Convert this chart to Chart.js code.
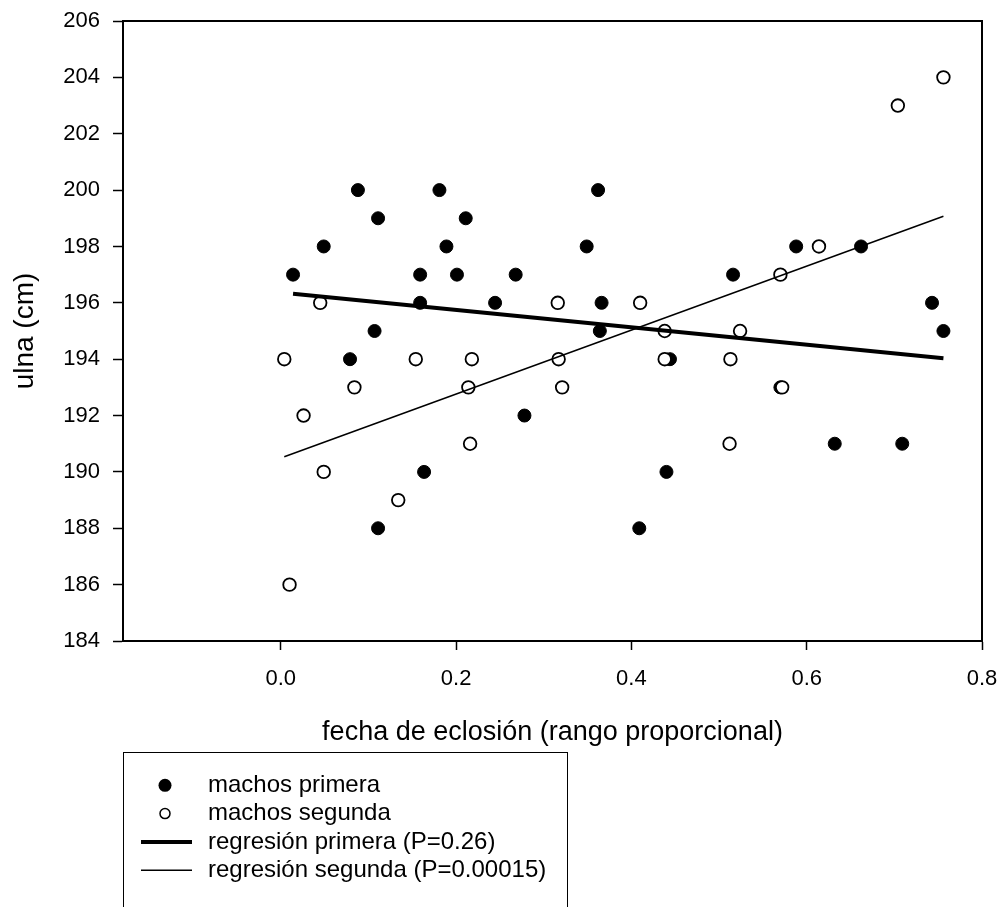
<!DOCTYPE html>
<html>
<head>
<meta charset="utf-8">
<script src="https://cdn.jsdelivr.net/npm/chart.js@4/dist/chart.umd.min.js"></script>
<style>
  html, body { margin: 0; padding: 0; background: #fff; }
  #wrap { width: 1003px; height: 907px; position: relative; }
</style>
</head>
<body>
<div id="wrap"><canvas id="chart"></canvas></div>
<script>
// machos primera (filled circles)
const primeraX = [0.014, 0.049, 0.079, 0.088, 0.107, 0.111, 0.111, 0.159, 0.159, 0.1635, 0.181, 0.189, 0.201, 0.211, 0.2445, 0.268,
  0.278, 0.349, 0.362, 0.364, 0.366, 0.409, 0.440, 0.444, 0.516, 0.570, 0.588, 0.632, 0.662, 0.709, 0.743, 0.756];
const primeraY = [197, 198, 194, 200, 195, 199, 188, 197, 196, 190, 200, 198, 197, 199, 196, 197,
  192, 198, 200, 195, 196, 188, 190, 194, 197, 193, 198, 191, 198, 191, 196, 195];

// machos segunda (open circles)
const segundaX = [0.004, 0.010, 0.026, 0.045, 0.049, 0.084, 0.134, 0.154, 0.214, 0.216, 0.218, 0.316, 0.317,
  0.321, 0.410, 0.438, 0.438, 0.512, 0.513, 0.524, 0.570, 0.572, 0.614, 0.704, 0.756];
const segundaY = [194, 186, 192, 196, 190, 193, 189, 194, 193, 191, 194, 196, 194,
  193, 196, 195, 194, 191, 194, 195, 197, 193, 198, 203, 204];

// regression lines (end points)
const regPrimeraX = [0.014, 0.756];
const regPrimeraY = [196.32, 194.03];
const regSegundaX = [0.004, 0.756];
const regSegundaY = [190.54, 199.07];

const xTicks = [0.0, 0.2, 0.4, 0.6, 0.8];
const labels = [
  "machos primera",
  "machos segunda",
  "regresión primera (P=0.26)",
  "regresión segunda (P=0.00015)",
];

const FONT = "'Liberation Sans', Arial, Helvetica, sans-serif";
Chart.defaults.font.family = FONT;
Chart.defaults.color = "#000";

const toPoints = (xs, ys) => xs.map((x, i) => ({ x, y: ys[i] }));

// keep the plot area where the layout padding puts it
const noScalePadding = (scale) => {
  scale.paddingTop = 0;
  scale.paddingBottom = 0;
  scale.paddingLeft = 0;
  scale.paddingRight = 0;
};

// frame round the plot area (top and right sides)
const frame = {
  id: "frame",
  afterDatasetsDraw(chart) {
    const { ctx, chartArea: a } = chart;
    ctx.save();
    ctx.strokeStyle = "#000";
    ctx.lineWidth = 2;
    ctx.strokeRect(a.left, a.top, a.right - a.left, a.bottom - a.top);
    ctx.restore();
  },
};

// boxed legend under the x axis title
const legendBox = {
  id: "legendBox",
  afterDraw(chart) {
    const { ctx, chartArea } = chart;
    const left = chartArea.left;
    const top = chartArea.bottom + 111;
    ctx.save();
    ctx.strokeStyle = "#000";
    ctx.lineWidth = 1;
    ctx.strokeRect(left + 0.5, top + 0.5, 444, 300);
    ctx.font = "24px " + FONT;
    ctx.fillStyle = "#000";
    ctx.textBaseline = "alphabetic";
    chart.data.datasets.forEach((ds, i) => {
      const base = top + 40 + i * 28.3;
      const cy = base - 6.7;
      const cx = left + 42;
      if (ds.type === "scatter") {
        ctx.beginPath();
        if (ds.pointBackgroundColor === "#000") {
          ctx.arc(cx, cy, 6.5, 0, Math.PI * 2);
          ctx.fillStyle = "#000";
          ctx.fill();
        } else {
          ctx.arc(cx, cy, 5, 0, Math.PI * 2);
          ctx.lineWidth = 1.5;
          ctx.stroke();
        }
      } else {
        ctx.beginPath();
        ctx.lineWidth = ds.borderWidth;
        ctx.moveTo(left + 18, cy);
        ctx.lineTo(left + 69, cy);
        ctx.stroke();
      }
      ctx.fillStyle = "#000";
      ctx.fillText(ds.label, left + 85, base);
    });
    ctx.restore();
  },
};

new Chart(document.getElementById("chart"), {
  data: {
    datasets: [
      {
        type: "scatter",
        label: labels[0],
        data: toPoints(primeraX, primeraY),
        pointRadius: 6.5,
        pointBorderWidth: 1,
        pointBackgroundColor: "#000",
        pointBorderColor: "#000",
        order: 3,
      },
      {
        type: "scatter",
        label: labels[1],
        data: toPoints(segundaX, segundaY),
        pointRadius: 6.3,
        pointBorderWidth: 1.8,
        pointBackgroundColor: "#fff",
        pointBorderColor: "#000",
        order: 2,
      },
      {
        type: "line",
        label: labels[2],
        data: toPoints(regPrimeraX, regPrimeraY),
        borderColor: "#000",
        borderWidth: 4,
        pointRadius: 0,
        fill: false,
        order: 1,
      },
      {
        type: "line",
        label: labels[3],
        data: toPoints(regSegundaX, regSegundaY),
        borderColor: "#000",
        borderWidth: 1.5,
        pointRadius: 0,
        fill: false,
        order: 0,
      },
    ],
  },
  options: {
    responsive: true,
    maintainAspectRatio: false,
    animation: false,
    devicePixelRatio: 1,
    layout: {
      padding: { left: 0, top: 21, right: 21, bottom: 156 },
    },
    plugins: {
      legend: { display: false },
      tooltip: { enabled: false },
    },
    scales: {
      x: {
        type: "linear",
        min: -0.18,
        max: 0.8,
        afterBuildTicks: (scale) => {
          scale.ticks = xTicks.map((v) => ({ value: v }));
        },
        afterFit: (scale) => {
          scale.height = 110;
          noScalePadding(scale);
        },
        border: { color: "#000", width: 2 },
        grid: { drawOnChartArea: false, color: "#000", tickLength: 9, tickWidth: 1.5 },
        ticks: {
          padding: 16,
          maxRotation: 0,
          font: { size: 22 },
          callback: (v) => Number(v).toFixed(1),
        },
        title: {
          display: true,
          text: "fecha de eclosión (rango proporcional)",
          font: { size: 27 },
          padding: { top: 0, bottom: 2 },
        },
      },
      y: {
        type: "linear",
        min: 184,
        max: 206,
        afterFit: (scale) => {
          scale.width = 123;
          noScalePadding(scale);
        },
        border: { color: "#000", width: 2 },
        grid: { drawOnChartArea: false, color: "#000", tickLength: 10, tickWidth: 1.5 },
        ticks: {
          stepSize: 2,
          padding: 13,
          font: { size: 22 },
        },
        title: {
          display: true,
          text: "ulna (cm)",
          font: { size: 28 },
          padding: { top: 8, bottom: 0 },
        },
      },
    },
  },
  plugins: [frame, legendBox],
});
</script>
</body>
</html>
